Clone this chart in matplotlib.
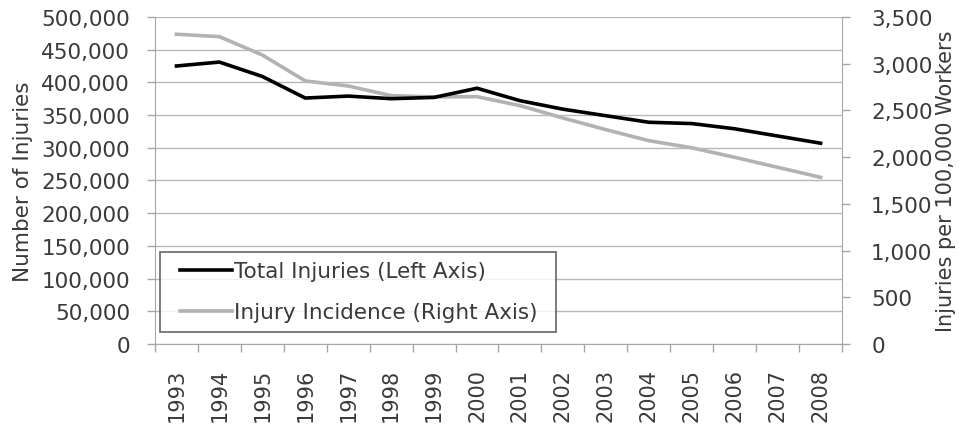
import matplotlib.pyplot as plt
from matplotlib.ticker import FuncFormatter, FixedLocator

plt.rcParams['font.family'] = ['DejaVu Sans']

years = [str(y) for y in range(1993, 2009)]
total_injuries = [425000, 431000, 409000, 376000, 379000, 375000, 377000, 391000,
                  372000, 359000, 349000, 339000, 337000, 329000, 318000, 307000]
incidence = [3315, 3289, 3093, 2815, 2761, 2658, 2644, 2647,
             2551, 2419, 2294, 2176, 2100, 1998, 1891, 1784]

axis_grey = "#a6a6a6"
text_col = "#3a3a3a"
fs = 15.5

fig = plt.figure(figsize=(9.59, 4.27), dpi=100)
ax = fig.add_axes([0.1616, 0.192, 0.7164, 0.766])
ax2 = ax.twinx()

x = list(range(len(years)))
l1, = ax.plot(x, total_injuries, color="black", lw=2.6, solid_joinstyle="round", zorder=3)
l2, = ax2.plot(x, incidence, color="#b2b2b2", lw=2.6, solid_joinstyle="round", zorder=3)

ax.set_xlim(-0.5, len(years) - 0.5)
ax.set_ylim(0, 500000)
ax2.set_ylim(0, 3500)

ax.set_yticks(range(0, 500001, 50000))
ax2.set_yticks(range(0, 3501, 500))
fmt = FuncFormatter(lambda v, p: f"{int(v):,}")
ax.yaxis.set_major_formatter(fmt)
ax2.yaxis.set_major_formatter(fmt)

# year labels sit on the category centres, tick marks on the boundaries
ax.set_xticks(x)
ax.set_xticklabels(years, rotation=90)
ax.xaxis.set_minor_locator(FixedLocator([i - 0.5 for i in range(len(years) + 1)]))
ax.tick_params(axis="x", which="major", length=0, pad=17)
ax.tick_params(axis="x", which="minor", length=6, color=axis_grey, width=1)

ax.grid(axis="y", color="#b8b8b8", lw=1)
ax.set_axisbelow(True)

for a in (ax, ax2):
    for s in a.spines.values():
        s.set_visible(False)
    a.tick_params(axis="y", length=6, color=axis_grey, width=1, labelsize=fs, labelcolor=text_col)
    a.tick_params(axis="x", labelsize=15, labelcolor=text_col)
ax.spines["left"].set_visible(True)
ax.spines["left"].set_color(axis_grey)
ax.spines["bottom"].set_visible(True)
ax.spines["bottom"].set_color(axis_grey)
ax2.spines["right"].set_visible(True)
ax2.spines["right"].set_color(axis_grey)
ax.tick_params(axis="y", pad=12)
ax2.tick_params(axis="y", pad=15)

ax.set_ylabel("Number of Injuries", fontsize=fs, color=text_col, labelpad=6)
ax2.set_ylabel("Injuries per 100,000 Workers", fontsize=15, color=text_col, labelpad=2)

leg = ax.legend([l1, l2], ["Total Injuries (Left Axis)", "Injury Incidence (Right Axis)"],
                loc="lower left", bbox_to_anchor=(0.0073, 0.0367, 0.576, 0.275),
                mode="expand", fontsize=fs,
                frameon=True, fancybox=False, edgecolor="#404040", handlelength=2.9,
                handletextpad=0.1, borderpad=0.45, labelspacing=0.98, borderaxespad=0)
leg.get_frame().set_linewidth(1.2)
# start the legend lines a little further in from the frame
for ln in leg.get_lines():
    xd = ln.get_xdata()
    yd = ln.get_ydata()
    ln.set_data([xd[0] + 7.5, xd[-1]], [yd[0], yd[-1]])
for t in leg.get_texts():
    t.set_color(text_col)
leg.set_zorder(5)
ax.set_zorder(ax2.get_zorder() + 1)
ax.patch.set_visible(False)

fig.savefig("out.png", dpi=100)
